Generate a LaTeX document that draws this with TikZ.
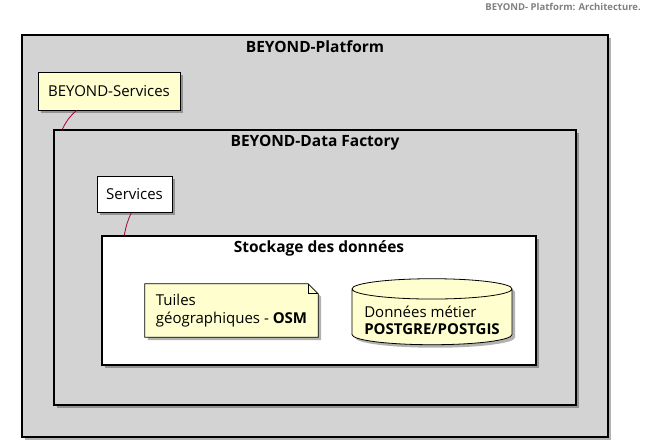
\documentclass[tikz,border=0pt]{standalone}
\usepackage{fontspec}
\setmainfont{Open Sans}
\usetikzlibrary{positioning,shapes.geometric,shadows}
\definecolor{umlgray}{HTML}{D3D3D3}
\definecolor{umlyellow}{HTML}{FEFECE}
\definecolor{umlred}{HTML}{A80036}
\definecolor{titlegray}{HTML}{808080}
\def\Beyond{BEYOND}

\begin{document}
\begin{tikzpicture}[% styles shared by all boxes, override case by case
      x=1pt,y=-1pt,
      every node/.style={
        inner sep=0pt,
        font=\fontsize{15}{17.5}\selectfont  % body text of the diagram
      },
      boxshadow/.style={drop shadow={shadow xshift=3pt,shadow yshift=-3pt,
        fill=black,opacity=.3}},
      frame/.style={rectangle,draw=black,line width=1.3pt,boxshadow},
      comp/.style={rectangle,draw=black,line width=1pt,boxshadow},
      frametitle/.style={font=\bfseries\fontsize{15.5}{18}\selectfont},
      link/.style={draw=umlred,line width=.8pt}
    ]
    \useasboundingbox (0,0) rectangle (652,447);
    \node[anchor=north east,text=titlegray,
      font=\bfseries\fontsize{9.5}{11}\selectfont](T) at (641,3) {\Beyond- Platform: Architecture.};
    % outer frame
    \node[frame,fill=umlgray,minimum width=586pt,minimum height=402pt](P) at (315,236) {};
    \node[frametitle,below=6pt of P.north](Pt){\Beyond-Platform};
    \node[comp,fill=umlyellow,minimum width=142pt,minimum height=38pt](S1) at (109,91) {\Beyond-Services};
    % data factory frame
    \node[frame,fill=umlgray,minimum width=522pt,minimum height=275pt](F) at (315,267.5) {};
    \node[frametitle,below=6pt of F.north](Ft){\Beyond-Data Factory};
    \node[comp,fill=white,minimum width=75pt,minimum height=36pt](S2) at (134.5,194) {Services};
    % storage frame
    \node[frame,fill=white,minimum width=434pt,minimum height=129pt](D) at (319,300.5) {};
    \node[frametitle,below=5pt of D.north](Dt){Stockage des données};
    \node[minimum width=173pt,minimum height=53pt](Nb) at (231.5,310.5) {};
    \draw[fill=umlyellow,line width=.8pt,boxshadow] (Nb.north west) -- ([xshift=-10pt]Nb.north east)
      -- ([yshift=-10pt]Nb.north east) -- (Nb.south east) -- (Nb.south west) -- cycle;
    \draw[line width=.8pt] ([xshift=-10pt]Nb.north east) |- ([yshift=-10pt]Nb.north east);
    \node[align=left](N) at (Nb) {Tuiles\\géographiques - \textbf{OSM}};
    % database
    \node[cylinder,shape border rotate=90,aspect=.15,draw=black,line width=.8pt,
      fill=umlyellow,boxshadow,minimum width=160pt,minimum height=66pt](B) at (432,317)
      {\bfseries\phantom{POSTGRE/POSTGIS}};
    \node[align=left](Bt) at (432,320.5) {Données métier\\\textbf{POSTGRE/POSTGIS}};
    \path[link]
    ([xshift=39pt]S1.south west) edge [bend right=12] ([xshift=9pt]F.north west)
    ([xshift=-3pt]S2.south) edge [bend right=8] ([xshift=23pt]D.north west)
    ;
  \end{tikzpicture}
\end{document}
